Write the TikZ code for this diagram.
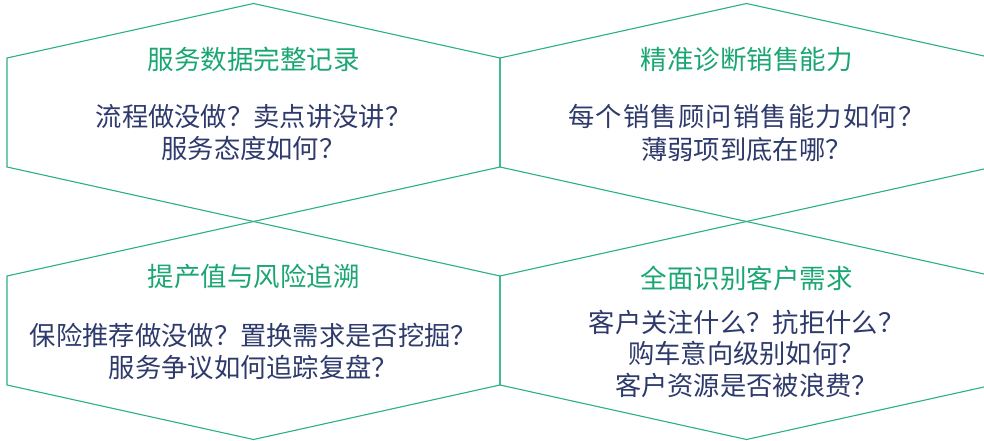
\documentclass[tikz,border=0pt]{standalone}
\usepackage{fontspec}
\setmainfont{Noto Sans CJK SC}
\definecolor{hexline}{HTML}{2BB07F}
\definecolor{titlegreen}{HTML}{1AA673}
\definecolor{bodynavy}{HTML}{2E3A6C}
\tikzset{
  hexedge/.style={draw=hexline, line width=1.1pt, line join=miter},
  titletext/.style={text=titlegreen, font=\fontsize{26.5pt}{30pt}\selectfont, inner sep=0pt, anchor=center},
  bodytext/.style={text=bodynavy, font=\fontsize{26.3pt}{32.5pt}\selectfont, align=center, inner sep=0pt, anchor=center},
}
\begin{document}
\begin{tikzpicture}[x=1pt,y=-1pt]
\useasboundingbox (0,0) rectangle (984,441);
\begin{scope}
\clip (0,0) rectangle (984,441);
% hexagons: center (cx,cy), half width 246.5, half vertical 54.5, slant 54.5
\foreach \cx/\cy/\n in {253.5/112.5/a, 746.5/112.5/b, 253.5/330.5/c, 746.5/330.5/d}{
  \draw[hexedge] (\cx-246.5,\cy-54.5) -- (\cx,\cy-109) -- (\cx+246.5,\cy-54.5)
    -- (\cx+246.5,\cy+54.5) -- (\cx,\cy+109) -- (\cx-246.5,\cy+54.5) -- cycle;
}
\end{scope}
\node[titletext] (t1) at (253.5,59) {服务数据完整记录};
\node[titletext] (t2) at (746.5,59) {精准诊断销售能力};
\node[titletext] (t3) at (253.5,276.5) {提产值与风险追溯};
\node[titletext] (t4) at (746.5,278) {全面识别客户需求};
\node[bodytext] (b1) at (253.5,132.5) {流程做没做？卖点讲没讲？\\服务态度如何？};
\node[bodytext] (b2) at (746.5,133) {{\addfontfeature{LetterSpace=4.5}每个销售顾问销售能力如何？}\\薄弱项到底在哪？};
\node[bodytext] (b3) at (253.5,351.5) {保险推荐做没做？置换需求是否挖掘？\\服务争议如何追踪复盘？};
\node[bodytext, font=\fontsize{26.3pt}{31.5pt}\selectfont] (b4) at (746.5,353.5) {客户关注什么？抗拒什么？\\购车意向级别如何？\\客户资源是否被浪费？};
\end{tikzpicture}
\end{document}
